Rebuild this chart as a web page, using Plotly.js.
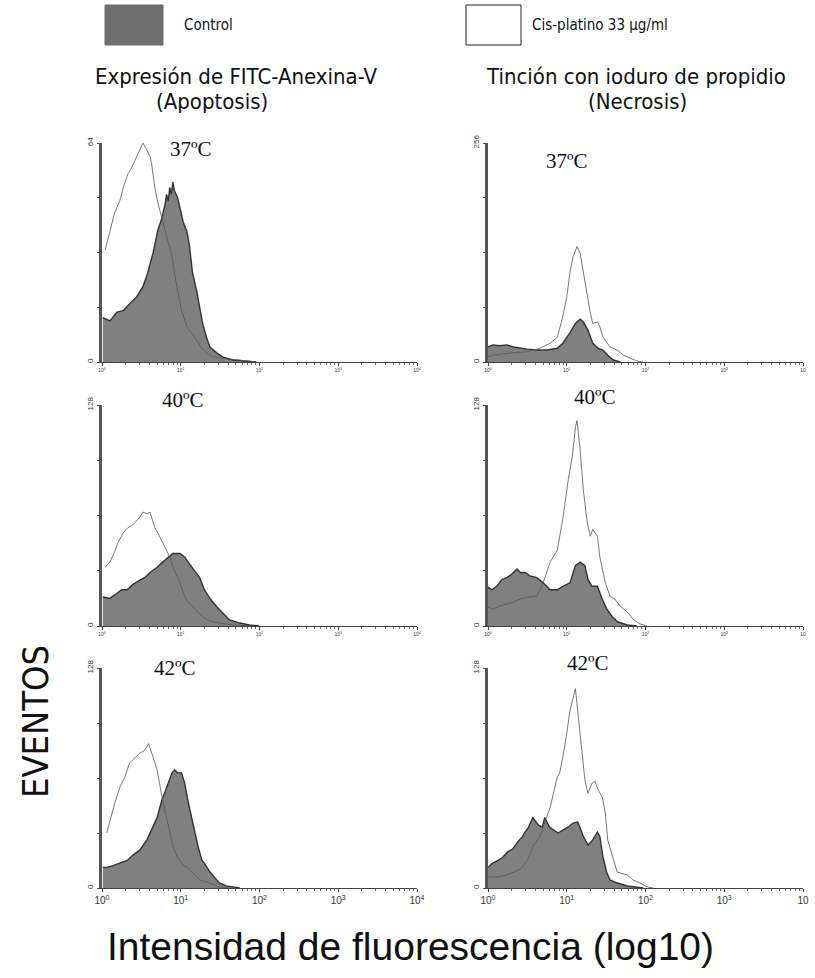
<!DOCTYPE html>
<html>
<head>
<meta charset="utf-8">
<script src="https://cdn.plot.ly/plotly-3.0.1.min.js"></script>
<style>html,body{margin:0;padding:0;background:#fff;}#chart{width:815px;height:978px;}</style>
</head>
<body>
<div id="chart"></div>
<script>
// ---- Data: x given as log10(fluorescence), y = events ----
// 37 ºC  Anexina (left top)
const ctl37A_lx = [0.01,0.10,0.19,0.27,0.35,0.44,0.52,0.58,0.65,0.71,0.76,0.80,0.82,0.84,0.86,0.88,0.90,0.92,0.96,1.03,1.08,1.11,1.15,1.20,1.24,1.28,1.33,1.37,1.46,1.53,1.66,1.96];
const ctl37A_y  = [13,12,14.6,15,17,19,22,26,32,38.6,42,46,49,47,51,49,52.6,50,48,41,38,34,26,21,16,11,7,4.4,2.6,1.5,0.6,0];
const cis37A_lx = [0.04,0.10,0.16,0.23,0.27,0.33,0.38,0.44,0.48,0.52,0.57,0.61,0.63,0.67,0.71,0.76,0.80,0.84,0.89,0.92,0.96,1.01,1.08,1.14,1.20,1.27,1.33,1.41,1.53,1.71,1.96];
const cis37A_y  = [32.7,38.6,43.6,47.4,51,55,57,60,62,64,62,60,58,51,46.5,42,38.6,34.8,30.7,26,21,15.2,10.2,8.5,6.4,4,2.6,1.5,1.1,0.6,0];
// 37 ºC  Ioduro de propidio (right top)
const ctl37B_lx = [0.0,0.06,0.15,0.24,0.32,0.41,0.50,0.62,0.75,0.88,0.95,1.04,1.11,1.17,1.21,1.27,1.33,1.40,1.46,1.52,1.59,1.68];
const ctl37B_y  = [17.5,20,19,20,17.5,16,15,14,14,16,22,34,45,50,47,37,22,16,14,8,2.3,0];
const cis37B_lx = [0.0,0.06,0.28,0.50,0.66,0.79,0.88,0.95,1.00,1.04,1.08,1.13,1.17,1.21,1.26,1.30,1.33,1.39,1.42,1.46,1.55,1.64,1.72,1.80,1.89,1.97];
const cis37B_y  = [6,8,10.5,12,16,22,29,53,76,104,123,135,127,104,76,57,45,47,41,29,17.5,14,8,4.7,1.2,0];
// 40 ºC  Anexina (left middle)
const ctl40A_lx = [0.01,0.10,0.19,0.25,0.32,0.39,0.48,0.54,0.61,0.70,0.77,0.84,0.90,0.99,1.05,1.11,1.18,1.24,1.30,1.37,1.46,1.53,1.62,1.75,1.87,2.00];
const ctl40A_y  = [16.8,16,19,21,21,24,26.6,28,31,34,37,40,42,42,40,36,32,28,21,16,11,7.5,3.5,1.7,0.6,0];
const cis40A_lx = [0.04,0.10,0.16,0.20,0.27,0.33,0.39,0.44,0.48,0.52,0.57,0.61,0.67,0.73,0.80,0.86,0.92,0.99,1.05,1.11,1.20,1.28,1.37,1.49,1.66,1.91];
const cis40A_y  = [34,37,43,48,54,57,58.5,61,63,66,65,66,57,52,46,40,32,25,17,13,9,5.2,2.9,1.7,0.6,0];
// 40 ºC  Ioduro de propidio (right middle)
const ctl40B_lx = [0.0,0.05,0.11,0.18,0.24,0.30,0.37,0.41,0.47,0.53,0.62,0.70,0.79,0.88,0.95,1.04,1.11,1.17,1.23,1.27,1.32,1.39,1.45,1.51,1.58,1.65,1.77,1.89];
const ctl40B_y  = [22.5,21,23,27,28,30,33,31,31,29,28,25,21,21,23,25,35,37,35,27,23,23,15.6,9.8,5.2,2.3,0.6,0];
const cis40B_lx = [0.0,0.06,0.15,0.24,0.32,0.41,0.50,0.62,0.70,0.79,0.88,0.95,1.02,1.07,1.11,1.13,1.17,1.21,1.26,1.30,1.33,1.39,1.42,1.49,1.55,1.61,1.68,1.77,1.84,1.93,2.02];
const cis40B_y  = [11,9.8,11.5,12.7,13.8,15.6,16.7,17.3,25,37,44,62,85,98,115,119,102,79,60,52,56,52,40,25,17.3,15.6,11.5,8,4,1.2,0];
// 42 ºC  Anexina (left bottom)
const ctl42A_lx = [0.01,0.06,0.14,0.23,0.32,0.39,0.48,0.57,0.63,0.70,0.76,0.82,0.89,0.92,0.96,1.01,1.05,1.09,1.14,1.18,1.22,1.27,1.30,1.37,1.43,1.49,1.58,1.75];
const ctl42A_y  = [12,12,13,14.5,16,19,22,28,34,41,51,59,67,68.6,67,67,61,51,41,32,24,16,14.5,9.3,5.8,2.9,1.2,0];
const cis42A_lx = [0.06,0.10,0.16,0.23,0.29,0.35,0.42,0.48,0.54,0.59,0.65,0.70,0.73,0.77,0.82,0.86,0.90,0.96,1.03,1.08,1.15,1.24,1.37,1.49,1.62];
const cis42A_y  = [32,39.5,49,59,64.5,72.7,76,78.5,80,84,76,68.6,61,51,41,32,24,18,13.4,12.2,8.7,4.7,2.9,0.6,0];
// 42 ºC  Ioduro de propidio (right bottom)
const ctl42B_lx = [0.0,0.06,0.13,0.19,0.25,0.32,0.38,0.44,0.47,0.51,0.57,0.64,0.69,0.72,0.78,0.83,0.89,0.95,1.02,1.08,1.14,1.18,1.21,1.27,1.33,1.39,1.42,1.46,1.51,1.55,1.64,1.77,1.97];
const ctl42B_y  = [12,14.5,16,18,21,23,27,30,32.5,35,41,36.6,35.5,41,35.5,33.7,32,33.7,35.5,37.8,38.4,33.7,30,25,28,32.5,30,18,8.7,4.7,2.9,1.2,0];
const cis42B_lx = [0.0,0.11,0.24,0.41,0.50,0.57,0.66,0.72,0.79,0.83,0.88,0.91,0.95,1.00,1.04,1.11,1.14,1.19,1.23,1.27,1.32,1.36,1.40,1.45,1.49,1.52,1.58,1.64,1.77,1.84,1.93,2.02,2.10];
const cis42B_y  = [6.4,6.4,7.6,11,16,24,30,37.8,47,55,64.5,67,76,90,103,116,102,80,63,55,61,62,57,53,43.6,28,18,9.3,7.6,4.7,2.9,0.6,0];

const yMax = [64, 256, 128, 128, 128, 128];
const xTickVals = [1, 10, 100, 1000, 10000];
const xTickTextL = ['10<sup>0</sup>','10<sup>1</sup>','10<sup>2</sup>','10<sup>3</sup>','10<sup>4</sup>'];
const xTickTextR = ['10<sup>0</sup>','10<sup>1</sup>','10<sup>2</sup>','10<sup>3</sup>','10'];
const tempLabels = ['37ºC','37ºC','40ºC','40ºC','42ºC','42ºC'];

const panels = [
  [ctl37A_lx, ctl37A_y, cis37A_lx, cis37A_y],
  [ctl37B_lx, ctl37B_y, cis37B_lx, cis37B_y],
  [ctl40A_lx, ctl40A_y, cis40A_lx, cis40A_y],
  [ctl40B_lx, ctl40B_y, cis40B_lx, cis40B_y],
  [ctl42A_lx, ctl42A_y, cis42A_lx, cis42A_y],
  [ctl42B_lx, ctl42B_y, cis42B_lx, cis42B_y]
];

// ---- Layout geometry (pixels) ----
const W = 815, H = 978;
const colX = [[102, 417], [488, 803]];
const rowY = [[143, 362], [405, 626], [668, 888]];
const fx = p => p / W;
const fy = p => 1 - p / H;

const traces = [];
const layout = {
  width: W, height: H,
  margin: {l: 0, r: 0, t: 0, b: 0},
  paper_bgcolor: '#fff', plot_bgcolor: '#fff',
  showlegend: false,
  font: {family: 'Liberation Sans, Arial, sans-serif', color: '#222'},
  annotations: [], shapes: []
};

panels.forEach((p, i) => {
  const n = i + 1;
  const xa = 'x' + (n === 1 ? '' : n), ya = 'y' + (n === 1 ? '' : n);
  const col = i % 2, row = Math.floor(i / 2);
  const bottom = row === 2;
  traces.push({
    x: p[0].map(v => Math.pow(10, v)), y: p[1], xaxis: xa, yaxis: ya,
    type: 'scatter', mode: 'lines', fill: 'tozeroy',
    fillcolor: '#808080', line: {color: '#333', width: 1.4}, hoverinfo: 'skip'
  });
  traces.push({
    x: p[2].map(v => Math.pow(10, v)), y: p[3], xaxis: xa, yaxis: ya,
    type: 'scatter', mode: 'lines',
    line: {color: '#555', width: 0.8}, hoverinfo: 'skip'
  });
  const ym = yMax[i];
  layout['xaxis' + (n === 1 ? '' : n)] = {
    type: 'log', range: [0, 4], domain: [fx(colX[col][0]), fx(colX[col][1])],
    anchor: ya, showgrid: false, zeroline: false,
    showline: true, linecolor: '#444', linewidth: 1,
    tickmode: 'array', tickvals: xTickVals,
    ticktext: col === 0 ? xTickTextL : xTickTextR,
    ticks: 'outside', ticklen: 3, tickcolor: '#444',
    tickfont: {size: bottom ? 10 : 5, color: '#333', family: 'Liberation Sans, Arial, sans-serif'},
    minor: {ticks: 'outside', ticklen: 2, tickcolor: '#666', dtick: 'D1', showgrid: false},
    fixedrange: true
  };
  layout['yaxis' + (n === 1 ? '' : n)] = {
    range: [0, ym], domain: [fy(rowY[row][1]), fy(rowY[row][0])],
    anchor: xa, showgrid: false, zeroline: false,
    showline: true, linecolor: '#555', linewidth: 3.5,
    tickmode: 'array', tickvals: [0, ym], ticktext: ['0', String(ym)],
    ticks: 'outside', ticklen: 2, tickcolor: '#555', tickangle: -90,
    minor: {tickmode: 'array', tickvals: [ym/4, ym/2, 3*ym/4], ticks: 'outside', ticklen: 2, tickcolor: '#555', showgrid: false},
    tickfont: {size: 8, color: '#333', family: 'Liberation Sans, Arial, sans-serif'},
    fixedrange: true
  };
});

// temperature labels
const tempPos = [[191,149],[567,161],[183,400],[595,397],[175,668],[588,663]];
tempPos.forEach((q, i) => {
  layout.annotations.push({
    text: tempLabels[i], xref: 'paper', yref: 'paper', x: fx(q[0]), y: fy(q[1]),
    xanchor: 'center', yanchor: 'middle', showarrow: false,
    font: {family: 'Liberation Serif, Times New Roman, serif', size: 21, color: '#111'}
  });
});

const narrow = "'Liberation Sans Narrow', 'Arial Narrow', 'DejaVu Sans Condensed', sans-serif";
const addText = (t, px, py, size, anchor, fam, angle) => layout.annotations.push({
  text: t, xref: 'paper', yref: 'paper', x: fx(px), y: fy(py), xanchor: anchor, yanchor: 'middle',
  showarrow: false, textangle: angle || 0, font: {family: fam, size: size, color: '#111'}
});
addText('Control', 182, 25, 15, 'left', narrow);
addText('Cis-platino 33 μg/ml', 530, 25, 15, 'left', narrow);
addText('Expresión de FITC-Anexina-V', 236, 77, 22, 'center', narrow);
addText('(Apoptosis)', 212, 102, 22, 'center', narrow);
addText('Tinción con ioduro de propidio', 636, 77, 22, 'center', narrow);
addText('(Necrosis)', 637, 101, 22, 'center', narrow);
addText('EVENTOS', 35, 722, 36, 'center', narrow, -90);
addText('Intensidad de fluorescencia (log10)', 410, 946, 39, 'center', 'Liberation Sans, Arial, sans-serif');

// legend swatches
layout.shapes.push({type: 'rect', xref: 'paper', yref: 'paper', x0: fx(105), x1: fx(163), y0: fy(45), y1: fy(5),
  fillcolor: '#6e6e6e', line: {color: '#6e6e6e', width: 1}});
layout.shapes.push({type: 'rect', xref: 'paper', yref: 'paper', x0: fx(466), x1: fx(521), y0: fy(45), y1: fy(5),
  fillcolor: '#fff', line: {color: '#222', width: 1}});

Plotly.newPlot('chart', traces, layout, {staticPlot: true, displayModeBar: false});
</script>
</body>
</html>
